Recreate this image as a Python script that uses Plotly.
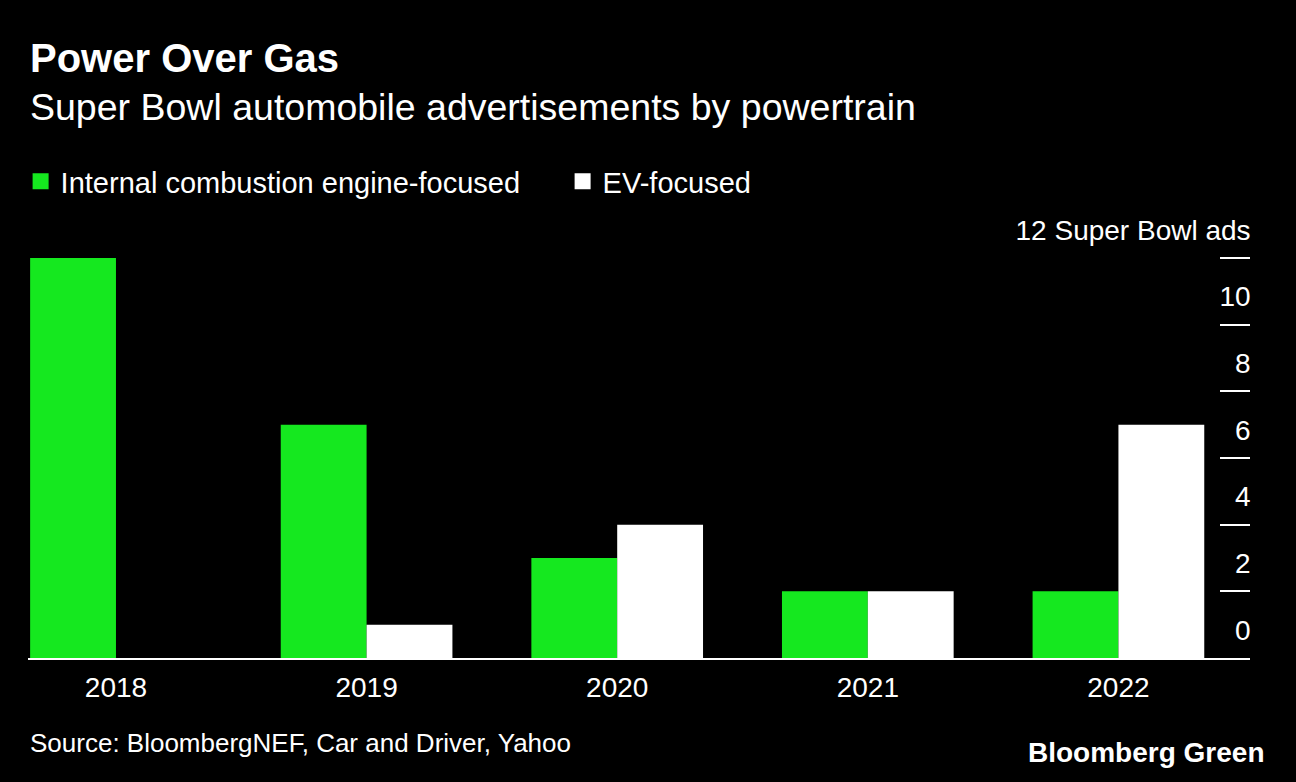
import plotly.graph_objects as go

years = ["2018", "2019", "2020", "2021", "2022"]
ice_ads = [12, 7, 3, 2, 2]
ev_ads = [0, 1, 4, 2, 7]
y_ticks = [0, 2, 4, 6, 8, 10, 12]
y_ticktext = ["0", "2", "4", "6", "8", "10", "12 Super Bowl ads"]

GREEN = "#15e81f"
WHITE = "#ffffff"
FONT = "Liberation Sans, Arial, Helvetica, sans-serif"

fig = go.Figure()
fig.add_trace(go.Bar(x=years, y=ice_ads, name="Internal combustion engine-focused",
                     marker=dict(color=GREEN, line=dict(width=0)), showlegend=False))
fig.add_trace(go.Bar(x=years, y=ev_ads, name="EV-focused",
                     marker=dict(color=WHITE, line=dict(width=0)), showlegend=False))
# legend-only entries with larger square swatches
fig.add_trace(go.Scatter(x=[None], y=[None], mode="markers", name="Internal combustion engine-focused",
                         marker=dict(symbol="square", size=19, color=GREEN)))
fig.add_trace(go.Scatter(x=[None], y=[None], mode="markers", name="EV-focused",
                         marker=dict(symbol="square", size=19, color=WHITE)))

fig.update_layout(
    width=1296, height=782,
    paper_bgcolor="black", plot_bgcolor="black",
    font=dict(family=FONT, color="white", size=28),
    margin=dict(l=28, r=46, t=256, b=124, pad=0, autoexpand=False),
    barmode="group", bargap=0.315, bargroupgap=0,
    showlegend=True,
    legend=dict(orientation="h", xref="container", yref="container",
                x=0.0159, y=1 - 156/782, xanchor="left", yanchor="top",
                font=dict(size=29, color="white"), bgcolor="rgba(0,0,0,0)",
                entrywidth=497, entrywidthmode="pixels", itemclick=False),
    xaxis=dict(type="category", range=[-0.351, 4.525], showgrid=False, zeroline=False,
               showline=True, linecolor="white", linewidth=2, ticks="",
               ticklabelstandoff=3, automargin=False,
               tickfont=dict(size=28, color="white"), fixedrange=True),
    yaxis=dict(range=[0, 12.06], side="right", showgrid=False, zeroline=False, showline=False,
               tickmode="array", tickvals=y_ticks, ticktext=y_ticktext,
               ticks="inside", ticklen=30, tickwidth=2, tickcolor="white",
               ticklabelposition="inside", ticklabelshift=-28, ticklabelstandoff=-28,
               ticklabeloverflow="allow", automargin=False,
               tickfont=dict(size=28, color="white"), fixedrange=True),
    annotations=[
        dict(text="<b>Power Over Gas</b>", x=0, y=1.4925, xref="paper", yref="paper",
             xanchor="left", yanchor="middle", showarrow=False,
             font=dict(size=40, color="white")),
        dict(text="Super Bowl automobile advertisements by powertrain", x=0, y=1.3706,
             xref="paper", yref="paper", xanchor="left", yanchor="middle", showarrow=False,
             font=dict(size=37.5, color="white")),
        dict(text="Source: BloombergNEF, Car and Driver, Yahoo", x=0, y=-0.2114,
             xref="paper", yref="paper", xanchor="left", yanchor="middle", showarrow=False,
             font=dict(size=26, color="white")),
        dict(text="<b>Bloomberg Green</b>", x=1.0131, y=-0.2363,
             xref="paper", yref="paper", xanchor="right", yanchor="middle", showarrow=False,
             font=dict(size=28, color="white")),
    ],
)

fig.write_html("out.html", config={"displayModeBar": False},
               post_script="document.body.style.margin='0px';")
